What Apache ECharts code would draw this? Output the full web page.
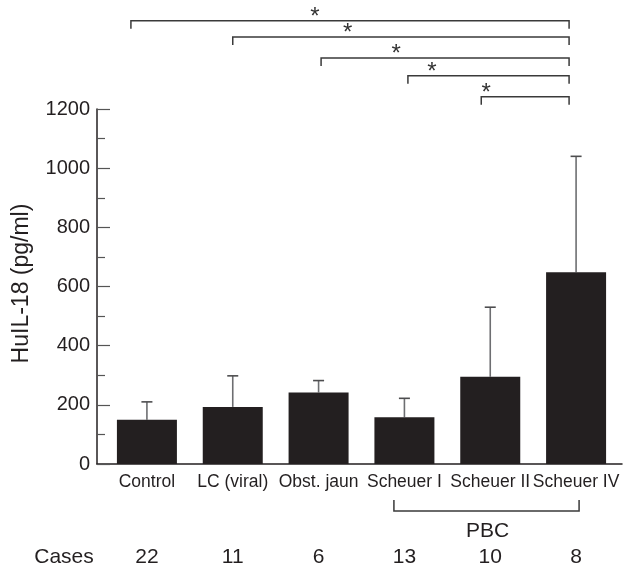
<!DOCTYPE html>
<html><head><meta charset="utf-8">
<script src="https://cdn.jsdelivr.net/npm/echarts@6/dist/echarts.min.js"></script>
<style>html,body{margin:0;padding:0;background:#fff}#c{width:624px;height:570px}</style>
</head><body><div id="c"></div>
<script>
// ---- data ----
const categories = ['Control', 'LC (viral)', 'Obst. jaun', 'Scheuer I', 'Scheuer II', 'Scheuer IV'];
const meanValues = [150, 193, 242, 158, 295, 648];
const errorTops = [210, 298, 282, 222, 530, 1040];
const caseCounts = ['22', '11', '6', '13', '10', '8'];
const yTickValues = [0, 200, 400, 600, 800, 1000, 1200];
// significant comparisons (group index pairs) and their bracket heights (pg/ml scale)
const comparisons = [[0, 5], [1, 5], [2, 5], [3, 5], [4, 5]];
const bracketLevels = [1498, 1443, 1372, 1312, 1241];
const starLabel = '*';
const pbcGroups = [3, 5];
const pbcLabel = 'PBC';
const casesLabel = 'Cases';

// ---- layout tweaks (pixels) ----
const bracketNudge = [[-16, -7], [0, -7], [2.5, -7], [3.5, -7], [-9, -7]];
const starOffset = [184, 115, 75, 24, 5];
const FONT = "'Liberation Sans', Arial, Helvetica, sans-serif";
const INK = '#231f20';
const yMin = yTickValues[0], yMax = yTickValues[yTickValues.length - 1];

const chart = echarts.init(document.getElementById('c'));
chart.setOption({
  backgroundColor: '#fff',
  animation: false,
  grid: [
    { left: 104, right: 5, top: 109, bottom: 106 },
    { left: 97, right: 2, top: 109, bottom: 106 }
  ],
  xAxis: [
    {
      type: 'category', gridIndex: 0, data: categories,
      axisLine: { show: false }, axisTick: { show: false },
      axisLabel: { interval: 0, hideOverlap: false, fontSize: 17.5, fontFamily: FONT, color: INK, margin: 9 }
    },
    {
      type: 'category', gridIndex: 0, position: 'bottom', data: caseCounts,
      axisLine: { show: false }, axisTick: { show: false },
      axisLabel: { interval: 0, fontSize: 21, fontFamily: FONT, color: INK, margin: 83 }
    },
    {
      type: 'value', gridIndex: 1, min: 0, max: 1, position: 'bottom',
      axisLine: { show: true, lineStyle: { color: INK, width: 1.5 } },
      axisTick: { show: false }, axisLabel: { show: false }, splitLine: { show: false }
    }
  ],
  yAxis: [
    { type: 'value', gridIndex: 0, show: false, min: yMin, max: yMax },
    {
      type: 'value', gridIndex: 1, min: yMin, max: yMax, interval: 200, position: 'left',
      name: 'HuIL-18 (pg/ml)', nameLocation: 'middle', nameRotate: 90, nameGap: 64,
      nameTextStyle: { fontSize: 23, fontFamily: FONT, color: INK, padding: [0, 0, 0, 6] },
      axisLine: { show: true, lineStyle: { color: INK, width: 1.5 } },
      axisTick: { show: true, inside: true, length: 13, lineStyle: { color: '#555', width: 1.2 } },
      minorTick: { show: true, splitNumber: 2, length: 8, lineStyle: { color: '#555', width: 1.2 } },
      splitLine: { show: false },
      axisLabel: { fontSize: 20, fontFamily: FONT, color: INK, margin: 7, formatter: v => String(v) }
    }
  ],
  series: [
    {
      type: 'bar', xAxisIndex: 0, yAxisIndex: 0, data: meanValues, barWidth: 60,
      itemStyle: { color: INK }, z: 3
    },
    {
      type: 'custom', xAxisIndex: 0, yAxisIndex: 0, clip: false, z: 2,
      data: meanValues.map((m, i) => [i, m, errorTops[i]]),
      encode: { x: 0, y: [1, 2] },
      renderItem: function (params, api) {
        const base = api.coord([api.value(0), api.value(1)]);
        const top = api.coord([api.value(0), api.value(2)]);
        const cap = 5.5;
        return {
          type: 'group', children: [
            { type: 'line', shape: { x1: base[0], y1: base[1], x2: top[0], y2: top[1] }, style: { stroke: '#6d6e71', lineWidth: 1.6 } },
            { type: 'line', shape: { x1: top[0] - cap, y1: top[1], x2: top[0] + cap, y2: top[1] }, style: { stroke: '#4d4d4f', lineWidth: 1.6 } }
          ]
        };
      }
    },
    {
      type: 'custom', xAxisIndex: 0, yAxisIndex: 0, clip: false, z: 4,
      data: comparisons.map((c, i) => [c[0], c[1], bracketLevels[i]]),
      encode: { x: [0, 1], y: 2 },
      renderItem: function (params, api) {
        const i = params.dataIndex;
        const a = api.coord([api.value(0), api.value(2)]);
        const b = api.coord([api.value(1), api.value(2)]);
        const x1 = a[0] + bracketNudge[i][0];
        const x2 = b[0] + bracketNudge[i][1];
        const y = a[1];
        const leg = 8;
        return {
          type: 'group', children: [
            { type: 'polyline', shape: { points: [[x1, y + leg], [x1, y], [x2, y], [x2, y + leg]] }, style: { stroke: '#3a3a3a', lineWidth: 1.5, fill: null } },
            { type: 'text', style: { text: starLabel, x: x1 + starOffset[i], y: y - 3.5, align: 'center', verticalAlign: 'middle', textAlign: 'center', textVerticalAlign: 'middle', font: '24px ' + FONT, fill: '#333' } }
          ]
        };
      }
    },
    {
      type: 'custom', xAxisIndex: 0, yAxisIndex: 0, clip: false, z: 4,
      data: [[pbcGroups[0], pbcGroups[1], 0]],
      encode: { x: [0, 1], y: 2 },
      renderItem: function (params, api) {
        const a = api.coord([api.value(0), api.value(2)]);
        const b = api.coord([api.value(1), api.value(2)]);
        const x1 = a[0] - 10.5, x2 = b[0] + 3;
        const yTop = a[1] + 36, yLine = a[1] + 47;
        return {
          type: 'group', children: [
            { type: 'polyline', shape: { points: [[x1, yTop], [x1, yLine], [x2, yLine], [x2, yTop]] }, style: { stroke: '#3a3a3a', lineWidth: 1.5, fill: null } },
            { type: 'text', style: { text: pbcLabel, x: (x1 + x2) / 2 + 1, y: a[1] + 67, align: 'center', verticalAlign: 'middle', textAlign: 'center', textVerticalAlign: 'middle', font: '21px ' + FONT, fill: INK } }
          ]
        };
      }
    }
  ],
  graphic: [
    { type: 'text', x: 64, y: 557, style: { text: casesLabel, align: 'center', verticalAlign: 'middle', textAlign: 'center', textVerticalAlign: 'middle', font: '21px ' + FONT, fill: INK } }
  ]
});
</script>
</body></html>
